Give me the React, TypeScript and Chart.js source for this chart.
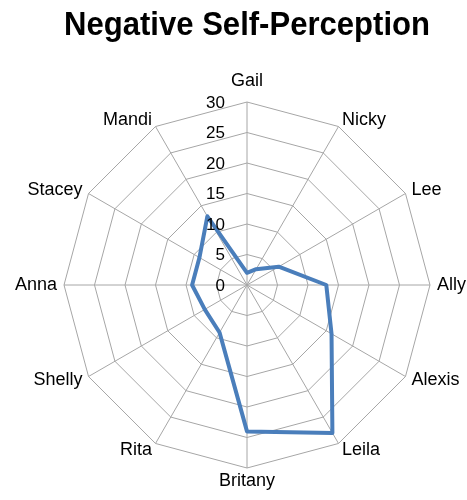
import React, { useEffect, useRef } from "react";
import { Chart, registerables } from "chart.js";

Chart.register(...registerables);

const titleText = "Negative Self-Perception";
const categories = ["Gail", "Nicky", "Lee", "Ally", "Alexis", "Leila", "Britany", "Rita", "Shelly", "Anna", "Stacey", "Mandi"];
const values = [2, 3, 6, 13, 16, 28, 24, 9, 8, 9, 9, 13];
const tickValues = [0, 5, 10, 15, 20, 25, 30];

const labelsPlugin = {
  id: "customRadarLabels",
  afterDraw(chart: any) {
    const scale = chart.scales.r;
    const ctx = chart.ctx;
    ctx.save();
    ctx.fillStyle = "#000";
    ctx.font = "17px 'Liberation Sans', Arial, sans-serif";
    ctx.textAlign = "right";
    ctx.textBaseline = "middle";
    tickValues.forEach((v) => {
      const d = scale.getDistanceFromCenterForValue(v);
      ctx.fillText(String(v), scale.xCenter - 22, scale.yCenter - d + 1);
    });
    ctx.font = "18px 'Liberation Sans', Arial, sans-serif";
    const r = scale.drawingArea;
    const n = categories.length;
    categories.forEach((c, i) => {
      const deg = Math.round((i * 360) / n);
      let dist = r + 7;
      if (deg === 0) dist = r + 21;
      else if (deg === 180) dist = r + 13;
      const p = scale.getPointPosition(i, dist);
      ctx.textAlign = deg === 0 || deg === 180 ? "center" : deg < 180 ? "left" : "right";
      ctx.fillText(c, p.x, p.y);
    });
    ctx.restore();
  },
};

export default function App() {
  const canvasRef = useRef<HTMLCanvasElement | null>(null);

  useEffect(() => {
    if (!canvasRef.current) return;
    const chart = new Chart(canvasRef.current, {
      type: "radar",
      data: {
        labels: categories,
        datasets: [
          {
            label: titleText,
            data: values,
            borderColor: "#4A7EBB",
            backgroundColor: "rgba(0,0,0,0)",
            borderWidth: 4,
            pointRadius: 0,
            pointHoverRadius: 0,
            fill: false,
            tension: 0,
            borderJoinStyle: "round",
          },
        ],
      },
      options: {
        responsive: false,
        animation: false,
        layout: { padding: { left: 64, right: 37, top: 0, bottom: 31 } },
        plugins: {
          legend: { display: false },
          tooltip: { enabled: false },
          title: {
            display: true,
            text: titleText,
            color: "#000",
            font: { family: "'Liberation Sans', Arial, sans-serif", size: 33, weight: "bold" },
            padding: { top: 6, bottom: 57 },
          },
        },
        scales: {
          r: {
            min: 0,
            max: 30,
            ticks: { stepSize: 5, display: false },
            pointLabels: { display: false },
            grid: { color: "#a6a6a6", lineWidth: 1 },
            angleLines: { color: "#a6a6a6", lineWidth: 1 },
          },
        },
      },
      plugins: [labelsPlugin],
    });
    return () => chart.destroy();
  }, []);

  return (
    <div style={{ position: "absolute", left: 0, top: 0, width: 467, height: 500, overflow: "hidden", background: "#fff" }}>
      <canvas ref={canvasRef} width={467} height={500} style={{ width: 467, height: 500, display: "block" }} />
    </div>
  );
}
